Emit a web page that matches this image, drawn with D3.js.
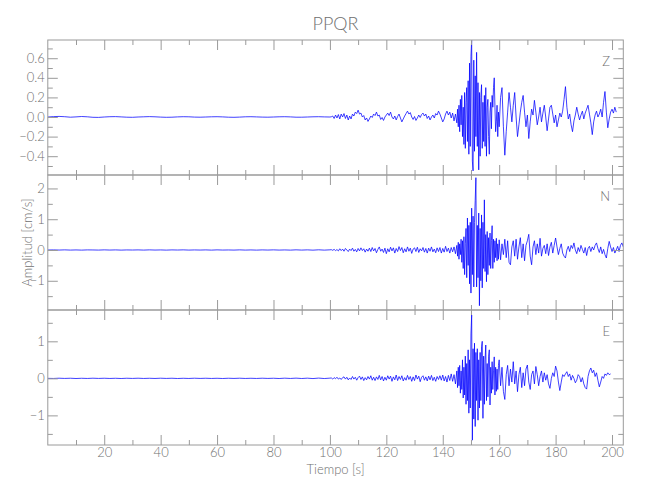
<!DOCTYPE html>
<html><head><meta charset="utf-8">
<script src="https://cdn.jsdelivr.net/npm/d3@7"></script>
<style>
body{margin:0;background:#fff}
text{font-family:Lato,"Liberation Sans Narrow","DejaVu Sans Condensed",sans-serif;font-weight:300;fill:#707070}
</style>
</head><body>
<svg id="c" width="650" height="500"></svg>
<script>
const title = "PPQR";
const xLabel = "Tiempo [s]";
const yLabel = "Amplitud [cm/s]";
const components = ["Z", "N", "E"];
const xDomain = [0, 204];
const xMajorTicks = [20, 40, 60, 80, 100, 120, 140, 160, 180, 200];
const xMinorTicks = [10, 30, 50, 70, 90, 110, 130, 150, 170, 190];

// sampling segments (start time, step in s)
const segStarts = [0, 100.5, 145.25, 160.5];
const segSteps = [2, 0.5, 0.25, 0.5];

// ---- Z component ----
const zDomain = [-0.592, 0.786];
const zMajorTicks = [-0.4, -0.2, 0, 0.2, 0.4, 0.6];
const zMinorTicks = [-0.5, -0.3, -0.1, 0.1, 0.3, 0.5, 0.7];
const zA = [0,0.004,0.006,0.003,-0.002,0.001,0.005,0.002,-0.003,-0.004,0,0.003,0.004,0.001,-0.002,-0.003,0,0.002,0.004,0.002,-0.001,-0.003,-0.002,0.001,0.003,0.002,-0.001,-0.002,0,0.002,0.003,0.001,-0.002,-0.003,-0.001,0.002,0.003,0.001,-0.001,-0.002,0,0.002,0.003,0.001,-0.002,-0.002,0,0.002,0.003,0.001,0];
const zB = [0.002,0.01,-0.015,0.02,-0.01,0.025,-0.02,0.03,0,0.035,-0.015,0.02,-0.03,0.01,-0.02,0.03,0.01,0.05,0.035,0.07,0.03,0.04,0,0.015,-0.03,-0.01,-0.045,-0.02,0.01,-0.005,0.03,0.015,0.05,0.01,0.02,-0.025,-0.005,-0.035,0,0.02,0.04,0.015,0.05,0,-0.02,0.01,-0.03,0.005,0.03,-0.01,-0.05,-0.02,0.01,0.035,0.06,0.03,0.045,0,-0.025,0.005,-0.035,-0.01,0.02,-0.005,0.025,0.04,0.01,0.03,-0.015,0.01,-0.03,0,0.02,-0.01,0.035,0.02,0.06,0.03,-0.01,-0.05,-0.02,0.03,0.06,0.02,0.05,-0.01,0.04,-0.04,0.03,-0.06];
const zC = [0.08,-0.1,0.12,-0.15,0.18,-0.08,0.22,-0.2,0.1,-0.28,0.25,-0.32,0.15,0.3,-0.25,0.37,-0.38,0.55,-0.3,0.62,0.79,-0.45,-0.55,0.58,-0.35,0.42,-0.2,0.66,-0.3,0.35,-0.54,0.25,-0.4,0.2,0.33,-0.32,0.15,-0.25,0.22,-0.3,0.3,-0.4,0.1,0.18,-0.2,-0.38,0.05,0.15,-0.12,0.22,0.1,0.3,0.4,0.1,-0.15,-0.05,0.12,-0.2,0.05,-0.1];
const zD = [0.2,0.3,-0.1,-0.39,-0.15,0.05,0.25,0.1,-0.05,0.12,0.25,0,-0.2,-0.08,0.05,0.15,0.22,0.05,-0.1,0.02,-0.22,-0.05,0.08,0.02,0.17,0.05,-0.08,0,0.1,-0.05,0.04,0.12,0,-0.14,-0.02,0.1,0.12,0.03,-0.06,0.02,-0.1,-0.03,0.04,0,0.06,0.18,0.31,0.1,-0.02,0.03,-0.08,-0.15,-0.04,0.02,0.1,0.03,-0.03,0.02,0.06,-0.02,0.04,0.08,0.12,0.03,-0.06,-0.18,-0.05,0.02,0.06,0,0.03,0.08,0,0.15,0.26,0.05,-0.11,-0.02,0.05,0.08,0.04,0.1,0.05];

// ---- N component ----
const nDomain = [-1.95, 2.437];
const nMajorTicks = [-1, 0, 1, 2];
const nMinorTicks = [-1.5, -0.5, 0.5, 1.5];
const nA = [0,0.003,-0.002,0.004,-0.003,0.002,-0.004,0.003,0.001,-0.003,0.004,-0.002,0.003,-0.004,0.002,-0.001,0.003,-0.003,0.004,-0.002,0.002,-0.004,0.003,-0.001,0.004,-0.003,0.002,-0.002,0.003,-0.004,0.004,-0.002,0.001,-0.003,0.004,-0.003,0.002,-0.004,0.003,-0.002,0.004,-0.003,0.002,-0.004,0.005,-0.003,0.004,-0.005,0.006,-0.004,0.005];
const nB = [0.01,-0.01,0.02,-0.02,0.015,-0.03,0.04,-0.02,0.03,-0.04,0.05,0,-0.05,0.03,-0.02,0.06,-0.04,0.02,-0.06,0.05,-0.03,0.07,-0.02,0.04,-0.07,0.03,-0.04,0.06,-0.05,0.08,-0.03,0.05,-0.09,0.02,0.1,-0.04,0.03,-0.08,0.06,-0.12,0.04,-0.06,0.09,-0.03,0.07,-0.1,0.05,-0.05,0.11,-0.02,0.08,-0.09,0.04,-0.06,0.1,-0.04,0.06,-0.11,0.03,0.07,-0.05,0.09,-0.08,0.04,-0.03,0.08,-0.07,0.05,-0.1,0.06,-0.04,0.1,-0.06,0.03,-0.09,0.07,-0.05,0.08,-0.1,0.05,-0.07,0.12,-0.05,0.06,-0.1,0.08,-0.06,0.1,-0.12,0.15];
const nC = [-0.2,0.25,-0.3,0.2,-0.15,0.35,-0.4,0.3,-0.6,0.43,-0.8,0.2,0.7,-0.9,1.04,-0.5,0.8,-1.1,0.9,-1.4,1.36,-0.8,1.1,-1.2,0.9,1.6,2.35,-1.2,0.8,-0.9,1.2,-1.81,0.7,-1.0,1.14,-1.23,0.9,-0.6,1.63,-0.7,0.5,-1.03,0.6,-0.8,0.4,-0.5,0.55,-0.6,0.3,0.79,-0.6,0.35,-0.4,0.3,-0.25,0.38,-0.35,0.2,-0.3,0.33];
const nD = [-0.32,0.2,-0.15,0.35,-0.25,0.3,-0.4,-0.48,0.1,0.3,-0.2,0.35,-0.3,0.1,0.4,-0.25,0.2,-0.35,0.15,0.3,0.51,-0.2,-0.48,0.1,0.3,-0.15,0.2,-0.1,0.38,-0.2,0.05,0.15,-0.12,0.2,-0.18,0.1,0.25,-0.1,0.15,0.39,0.1,-0.15,0.05,0.2,-0.1,-0.2,-0.26,0,0.12,-0.05,0.15,0.05,0.23,0,-0.12,0.08,-0.05,0.15,0.02,-0.1,0.08,-0.18,0.05,0.12,-0.05,0.1,0,0.15,0.23,0.05,-0.08,0.1,-0.12,0.02,-0.15,-0.26,0.05,0.28,0.1,-0.05,0.08,-0.1,0,0.12,-0.05,0.15,0.23,0.1];

// ---- E component ----
const eDomain = [-1.8, 1.846];
const eMajorTicks = [-1, 0, 1];
const eMinorTicks = [-1.5, -0.5, 0.5, 1.5];
const eA = [0,-0.003,0.004,-0.002,0.003,-0.004,0.002,-0.003,0.004,-0.002,0.003,-0.003,0.002,-0.004,0.003,-0.002,0.004,-0.003,0.002,-0.003,0.004,-0.002,0.003,-0.004,0.002,-0.003,0.004,-0.002,0.003,-0.003,0.002,-0.004,0.003,-0.002,0.004,-0.003,0.002,-0.003,0.004,-0.002,0.003,-0.004,0.005,-0.003,0.006,-0.004,0.005,-0.006,0.007,-0.005,0.006];
const eB = [0.01,-0.02,0.02,-0.01,0.03,-0.02,0.01,-0.03,0.02,0.04,-0.02,0.03,-0.04,0.01,-0.03,0.05,-0.02,0.03,-0.05,0.02,0.06,-0.03,0.04,-0.06,0.02,-0.04,0.05,-0.02,0.07,-0.05,0.03,-0.06,0.04,-0.03,0.08,-0.04,0.05,-0.07,0.03,-0.05,0.07,-0.02,0.06,-0.08,0.04,-0.04,0.09,-0.06,0.05,-0.03,0.07,-0.07,0.02,-0.05,0.08,-0.03,0.05,-0.08,0.04,-0.06,0.09,-0.02,0.06,-0.09,0.03,0.07,-0.05,0.04,-0.07,0.06,-0.04,0.08,-0.06,0.03,-0.08,0.05,-0.03,0.07,-0.05,0.09,-0.07,0.05,-0.1,0.08,-0.06,0.12,-0.08,0.1,-0.15,0.2];
const eC = [-0.25,0.3,-0.2,0.35,-0.4,0.2,-0.3,0.5,-0.53,0.3,-0.45,0.6,-0.7,0.4,-0.6,0.77,-0.94,0.5,-0.8,1.2,1.71,-1.67,0.8,-1.1,0.95,-1.3,0.7,-0.6,0.8,-1.13,0.5,-0.8,0.7,-0.6,0.85,1.0,-1.08,0.6,-0.7,0.5,0.9,-0.6,0.4,-0.5,0.6,0.77,-0.72,0.3,-0.4,0.45,-0.3,0.2,0.58,-0.45,0.3,-0.35,0.25,-0.3,0.35,0.5];
const eD = [-0.2,0.3,-0.35,-0.57,0.1,0.35,-0.2,0.25,-0.1,0.45,-0.15,0.2,-0.36,0.1,0.3,-0.25,0.15,-0.2,0.25,0.36,-0.1,-0.3,0.1,0.2,-0.15,0.32,0.1,-0.2,0.05,0.2,-0.1,0.15,-0.05,0.1,-0.15,-0.27,0,0.15,0.05,0.33,0.2,-0.1,-0.33,-0.1,0.1,0.05,0.12,0.18,0.05,0.12,-0.05,0.08,0,-0.12,-0.05,0.1,0.05,-0.1,0.02,-0.15,-0.25,-0.29,0.05,0.2,0.28,0.15,0.22,0.05,0.15,-0.05,-0.23,-0.1,0.05,0,0.12,0.08,0.15,0.1,0.12];

const panelsData = [
  {name: components[0], segs: [zA, zB, zC, zD], domain: zDomain, major: zMajorTicks, minor: zMinorTicks, fmt: d3.format(".1f")},
  {name: components[1], segs: [nA, nB, nC, nD], domain: nDomain, major: nMajorTicks, minor: nMinorTicks, fmt: d3.format("d")},
  {name: components[2], segs: [eA, eB, eC, eD], domain: eDomain, major: eMajorTicks, minor: eMinorTicks, fmt: d3.format("d")}
];

function build(segs) {
  return segs.flatMap((vals, k) => vals.map((v, i) => [segStarts[k] + i * segSteps[k], v]));
}

// ---- layout ----
const L = 47.8, R = 623.3, T = 40, PH = 135;
const FONT = 'Lato,"Liberation Sans Narrow","DejaVu Sans Condensed",sans-serif';
const svg = d3.select("#c");
svg.append("rect").attr("width", 650).attr("height", 500).attr("fill", "#fff");

const x = d3.scaleLinear().domain(xDomain).range([L, R]);
const axisColor = "#9a9a9a";

function styleAxis(g) {
  g.select(".domain").remove();
  g.selectAll(".tick line").attr("stroke", axisColor).attr("stroke-width", 1);
  g.selectAll(".tick text").attr("fill", "#707070").style("font-size", "13px")
   .style("font-family", FONT).style("font-weight", 300);
}

panelsData.forEach((p, idx) => {
  const top = T + idx * PH, bot = top + PH;
  const y = d3.scaleLinear().domain(p.domain).range([bot, top]);
  const g = svg.append("g");

  const clipId = "clip" + idx;
  svg.append("clipPath").attr("id", clipId).append("rect")
    .attr("x", L).attr("y", top).attr("width", R - L).attr("height", PH);

  const line = d3.line().x(d => x(d[0])).y(d => y(d[1]));
  g.append("path").datum(build(p.segs))
    .attr("clip-path", `url(#${clipId})`)
    .attr("fill", "none").attr("stroke", "#0000ff").attr("stroke-width", 0.75)
    .attr("stroke-linejoin", "round").attr("d", line);

  const isLast = idx === panelsData.length - 1;
  g.append("g").attr("transform", `translate(0,${bot})`)
    .call(d3.axisBottom(x).tickValues(xMajorTicks).tickSizeInner(-10).tickSizeOuter(0)
      .tickPadding(3).tickFormat(isLast ? d3.format("d") : () => ""))
    .call(styleAxis);
  g.append("g").attr("transform", `translate(0,${bot})`)
    .call(d3.axisBottom(x).tickValues(xMinorTicks).tickSizeInner(-5).tickSizeOuter(0).tickFormat(() => ""))
    .call(styleAxis);
  g.append("g").attr("transform", `translate(0,${top})`)
    .call(d3.axisTop(x).tickValues(xMajorTicks).tickSizeInner(-10).tickSizeOuter(0).tickFormat(() => ""))
    .call(styleAxis);
  g.append("g").attr("transform", `translate(0,${top})`)
    .call(d3.axisTop(x).tickValues(xMinorTicks).tickSizeInner(-5).tickSizeOuter(0).tickFormat(() => ""))
    .call(styleAxis);
  g.append("g").attr("transform", `translate(${L},0)`)
    .call(d3.axisLeft(y).tickValues(p.major).tickSizeInner(-10).tickSizeOuter(0).tickPadding(3).tickFormat(p.fmt))
    .call(styleAxis);
  g.append("g").attr("transform", `translate(${L},0)`)
    .call(d3.axisLeft(y).tickValues(p.minor).tickSizeInner(-5).tickSizeOuter(0).tickFormat(() => ""))
    .call(styleAxis);
  g.append("g").attr("transform", `translate(${R},0)`)
    .call(d3.axisRight(y).tickValues(p.major).tickSizeInner(-10).tickSizeOuter(0).tickFormat(() => ""))
    .call(styleAxis);
  g.append("g").attr("transform", `translate(${R},0)`)
    .call(d3.axisRight(y).tickValues(p.minor).tickSizeInner(-5).tickSizeOuter(0).tickFormat(() => ""))
    .call(styleAxis);

  g.append("rect").attr("x", L).attr("y", top).attr("width", R - L).attr("height", PH)
    .attr("fill", "none").attr("stroke", axisColor).attr("stroke-width", 1);

  g.append("text").attr("x", 610).attr("y", top + 26).attr("text-anchor", "end")
    .style("font-size", "13px").text(p.name);
});

svg.append("text").attr("x", (L + R) / 2).attr("y", 30).attr("text-anchor", "middle")
  .style("font-size", "18px").text(title);
svg.append("text").attr("x", (L + R) / 2).attr("y", 474).attr("text-anchor", "middle")
  .style("font-size", "13px").text(xLabel);
svg.append("text").attr("transform", `translate(32,${T + 1.5 * PH}) rotate(-90)`)
  .attr("text-anchor", "middle").style("font-size", "13px").text(yLabel);
</script>
</body></html>
